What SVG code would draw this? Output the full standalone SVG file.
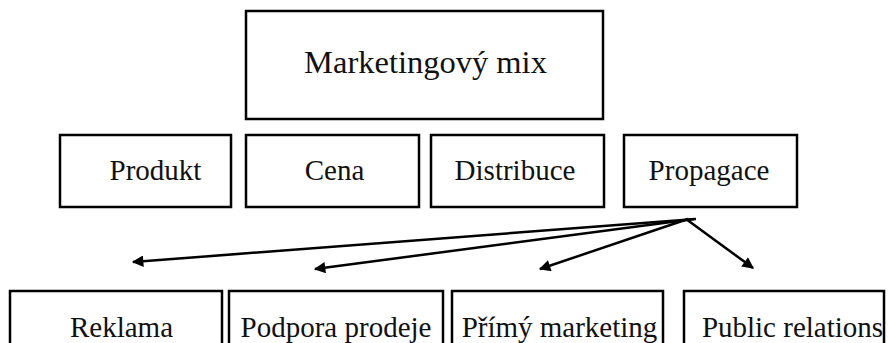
<svg xmlns="http://www.w3.org/2000/svg" width="888" height="343" viewBox="0 0 888 343">
<defs>
<style>
.box{fill:#fff;stroke:#000;stroke-width:2.5}
.t{font-family:"Liberation Serif","DejaVu Serif","Noto Serif",Tinos,serif;font-size:29px;fill:#111;text-anchor:middle}
.big{font-size:32.5px}
.c{stroke:#000;stroke-width:2.5;fill:none;marker-end:url(#ah)}
</style>
<marker id="ah" viewBox="0 0 10 10" refX="9" refY="5" markerWidth="6" markerHeight="4.6" markerUnits="strokeWidth" orient="auto">
<path d="M0,0 L10,5 L0,10 Z" fill="#000"/>
</marker>
</defs>
<rect width="888" height="343" fill="#fff"/>
<g id="n-mix"><rect class="box" x="246" y="11" width="357" height="108"/><text class="t big" x="425.5" y="73" font-family="Liberation Serif, serif">Marketingový mix</text></g>
<g id="n-produkt"><rect class="box" x="60" y="135" width="171" height="72"/><text class="t" x="155.5" y="180">Produkt</text></g>
<g id="n-cena"><rect class="box" x="246" y="135" width="173" height="72"/><text class="t" x="334.5" y="180">Cena</text></g>
<g id="n-distribuce"><rect class="box" x="431" y="135" width="173" height="72"/><text class="t" x="515" y="180">Distribuce</text></g>
<g id="n-propagace"><rect class="box" x="624" y="135" width="173" height="72"/><text class="t" x="709" y="180">Propagace</text></g>
<g id="n-reklama"><rect class="box" x="10" y="291" width="212" height="80"/><text class="t" x="121.5" y="337">Reklama</text></g>
<g id="n-podpora"><rect class="box" x="229" y="291" width="214" height="80"/><text class="t" x="336" y="337">Podpora prodeje</text></g>
<g id="n-primy"><rect class="box" x="452" y="291" width="211" height="80"/><text class="t" x="559.5" y="337">Přímý marketing</text></g>
<g id="n-pr"><rect class="box" x="684" y="291" width="200" height="80"/><text class="t" x="792.5" y="337">Public relations</text></g>
<g id="connectors">
<line class="c" x1="696" y1="219" x2="133" y2="262"/>
<line class="c" x1="694" y1="219" x2="315" y2="269"/>
<line class="c" x1="688" y1="219" x2="540" y2="269"/>
<line class="c" x1="686" y1="219" x2="753" y2="268"/>
</g>
</svg>
